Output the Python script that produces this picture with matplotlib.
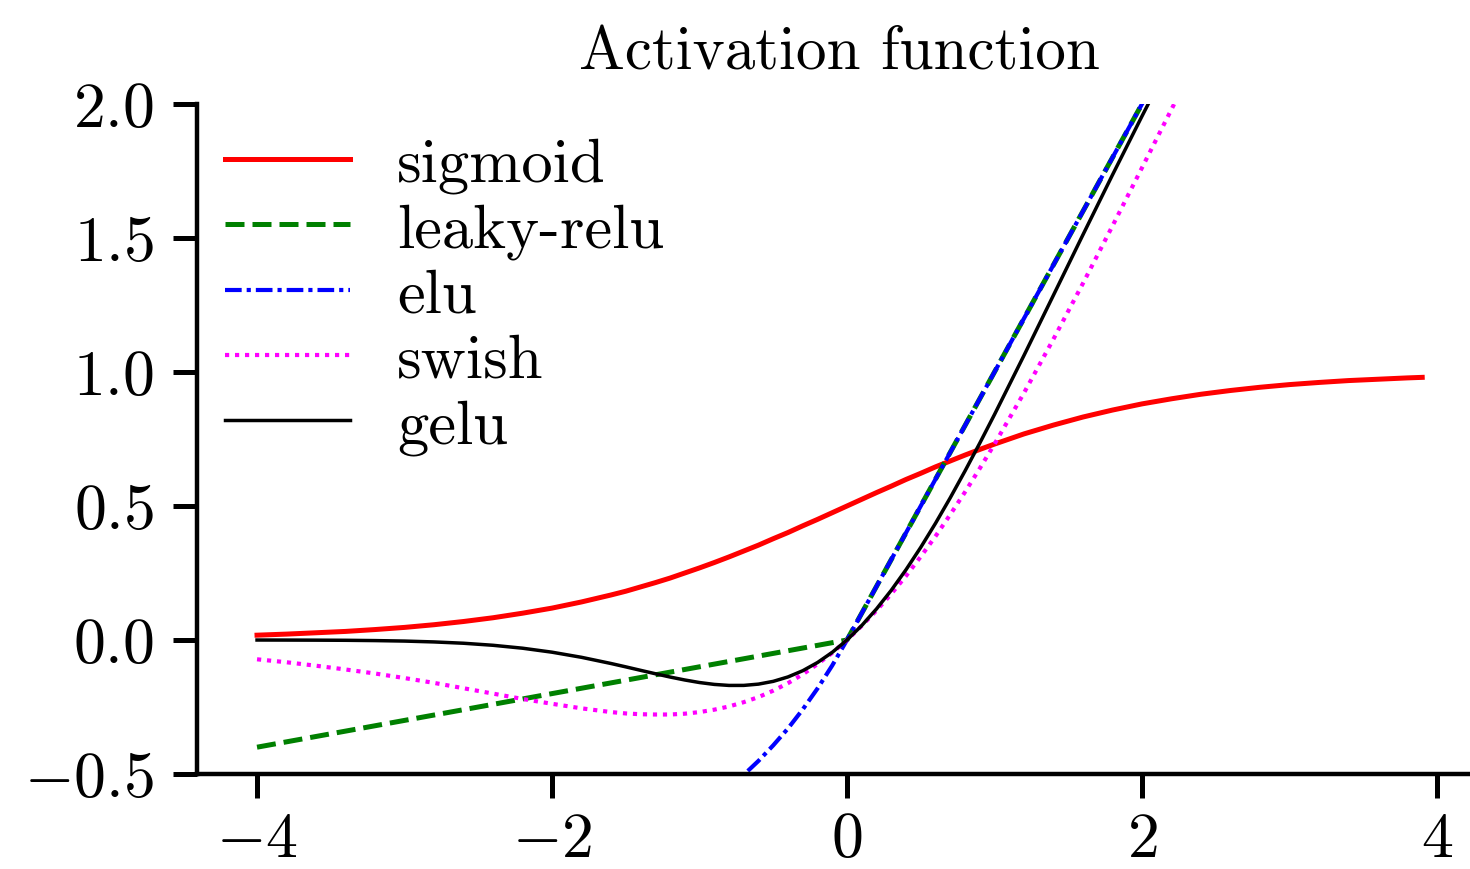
import numpy as np
import matplotlib
matplotlib.use('Agg')
import matplotlib.pyplot as plt

# Computer Modern look, like a LaTeX figure
plt.rcParams['font.family'] = 'cmr10'
plt.rcParams['mathtext.fontset'] = 'cm'
plt.rcParams['axes.formatter.use_mathtext'] = True
plt.rcParams['axes.unicode_minus'] = True

# Sample positions along x (denser around the bend near zero)
x_vals = [-4.0, -3.8, -3.6, -3.4, -3.2, -3.0, -2.8, -2.6, -2.4, -2.2,
          -2.0, -1.8, -1.6, -1.5, -1.4, -1.3, -1.2, -1.1, -1.0, -0.9,
          -0.8, -0.7, -0.6, -0.5, -0.4, -0.3, -0.2, -0.1, 0.0, 0.1,
          0.2, 0.3, 0.4, 0.5, 0.6, 0.7, 0.8, 0.9, 1.0, 1.2,
          1.4, 1.6, 1.8, 2.0, 2.2, 2.4, 2.6, 2.8, 3.0, 3.2,
          3.4, 3.6, 3.8, 3.9]

# Values
sigmoid = [0.018, 0.022, 0.027, 0.032, 0.039, 0.047, 0.057, 0.069, 0.083, 0.100,
           0.119, 0.142, 0.168, 0.182, 0.198, 0.214, 0.231, 0.250, 0.269, 0.289,
           0.310, 0.332, 0.354, 0.378, 0.401, 0.426, 0.450, 0.475, 0.500, 0.525,
           0.550, 0.574, 0.599, 0.622, 0.646, 0.668, 0.690, 0.711, 0.731, 0.769,
           0.802, 0.832, 0.858, 0.881, 0.900, 0.917, 0.931, 0.943, 0.953, 0.961,
           0.968, 0.973, 0.978, 0.980]

leaky_relu = [-0.40, -0.38, -0.36, -0.34, -0.32, -0.30, -0.28, -0.26, -0.24, -0.22,
              -0.20, -0.18, -0.16, -0.15, -0.14, -0.13, -0.12, -0.11, -0.10, -0.09,
              -0.08, -0.07, -0.06, -0.05, -0.04, -0.03, -0.02, -0.01, 0.0, 0.1,
              0.2, 0.3, 0.4, 0.5, 0.6, 0.7, 0.8, 0.9, 1.0, 1.2,
              1.4, 1.6, 1.8, 2.0, 2.2, 2.4, 2.6, 2.8, 3.0, 3.2,
              3.4, 3.6, 3.8, 3.9]

elu = [-0.982, -0.978, -0.973, -0.967, -0.959, -0.950, -0.939, -0.926, -0.909, -0.889,
       -0.865, -0.835, -0.798, -0.777, -0.753, -0.727, -0.699, -0.667, -0.632, -0.593,
       -0.551, -0.503, -0.451, -0.393, -0.330, -0.259, -0.181, -0.095, 0.0, 0.1,
       0.2, 0.3, 0.4, 0.5, 0.6, 0.7, 0.8, 0.9, 1.0, 1.2,
       1.4, 1.6, 1.8, 2.0, 2.2, 2.4, 2.6, 2.8, 3.0, 3.2,
       3.4, 3.6, 3.8, 3.9]

swish = [-0.072, -0.083, -0.096, -0.110, -0.125, -0.142, -0.160, -0.180, -0.200, -0.220,
         -0.238, -0.255, -0.269, -0.274, -0.277, -0.278, -0.278, -0.275, -0.269, -0.260,
         -0.248, -0.232, -0.213, -0.189, -0.161, -0.128, -0.090, -0.048, 0.0, 0.053,
         0.110, 0.172, 0.239, 0.311, 0.387, 0.468, 0.552, 0.640, 0.731, 0.922,
         1.123, 1.331, 1.545, 1.762, 1.980, 2.200, 2.420, 2.640, 2.860, 3.080,
         3.290, 3.500, 3.720, 3.820]

gelu = [-0.0001, -0.0003, -0.0006, -0.0011, -0.0022, -0.0040, -0.0072, -0.0121, -0.0197, -0.0306,
        -0.0455, -0.0646, -0.0877, -0.1002, -0.1131, -0.1258, -0.1381, -0.1492, -0.1587, -0.1657,
        -0.1695, -0.1694, -0.1646, -0.1543, -0.1378, -0.1146, -0.0841, -0.0460, 0.0, 0.0540,
        0.1159, 0.1854, 0.2622, 0.3457, 0.4354, 0.5306, 0.6305, 0.7343, 0.8413, 1.0619,
        1.2869, 1.5123, 1.7354, 1.9545, 2.1694, 2.380, 2.588, 2.793, 2.996, 3.198,
        3.399, 3.599, 3.800, 3.900]

x_ticks = [-4, -2, 0, 2, 4]
y_ticks = [-0.5, 0.0, 0.5, 1.0, 1.5, 2.0]

fig = plt.figure(figsize=(14.7, 8.7), dpi=100)
ax = fig.add_axes([197 / 1470, 95 / 870, 1273 / 1470, 670 / 870])

ax.plot(x_vals, sigmoid, color='red', lw=3.6, label='sigmoid')
ax.plot(x_vals, leaky_relu, color='green', lw=3.6, ls=(0, (3.8, 1.6)), label='leaky-relu')
ax.plot(x_vals, elu, color='blue', lw=3.0, ls=(0, (4, 1.2, 1, 1.2)), label='elu')
ax.plot(x_vals, swish, color='magenta', lw=3.0, ls=(0, (1, 1.4)), label='swish')
ax.plot(x_vals, gelu, color='black', lw=2.5, label='gelu')

ax.set_xlim(-4.407, 4.224)
ax.set_ylim(-0.5, 2.0)
ax.set_xticks(x_ticks)
ax.set_yticks(y_ticks)

# Only left and bottom axis lines
for side in ['top', 'right']:
    ax.spines[side].set_visible(False)
for side in ['left', 'bottom']:
    ax.spines[side].set_linewidth(3.2)
ax.tick_params(axis='both', length=17, width=3.6, labelsize=46)
ax.tick_params(axis='x', pad=10)
ax.tick_params(axis='y', pad=14)

leg = ax.legend(loc='upper left', bbox_to_anchor=(0.0, 0.993), frameon=False,
                fontsize=45, handlelength=2.0, handletextpad=0.75,
                labelspacing=0.15, borderaxespad=0.05)

fig.text(839 / 1470, 1 - 70 / 870, 'Activation function', ha='center',
         va='baseline', fontsize=44)

fig.savefig('out.png', dpi=100)
